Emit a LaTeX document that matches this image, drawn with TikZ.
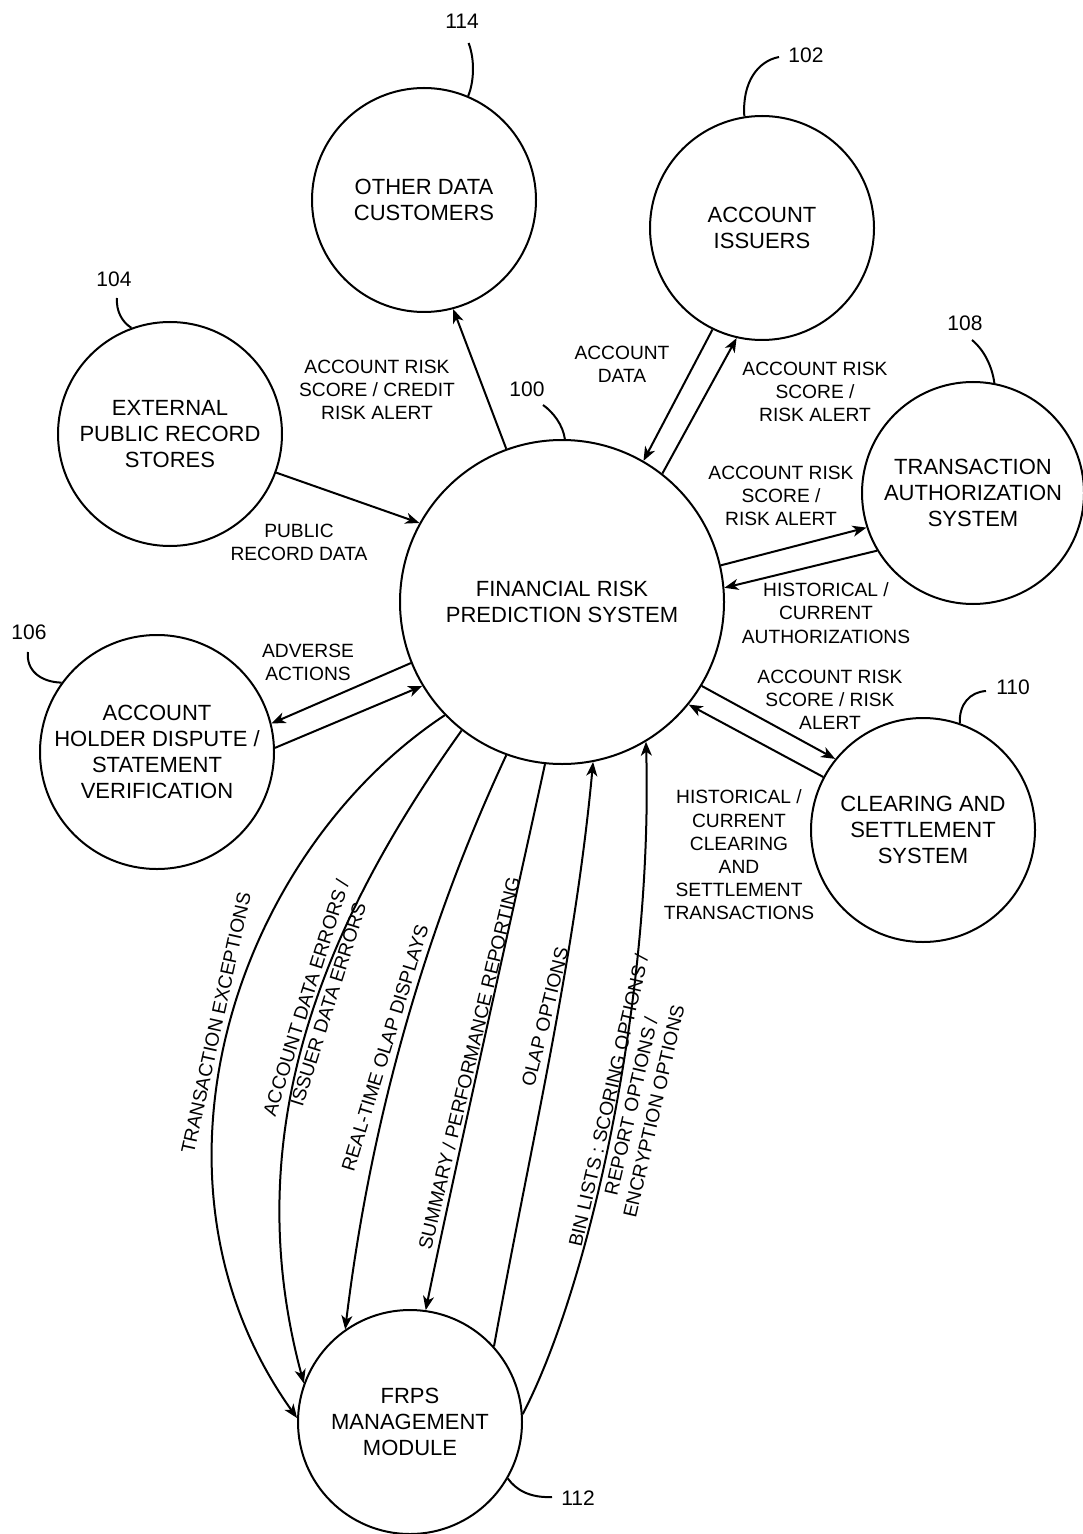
\documentclass[tikz,border=0pt]{standalone}
\usepackage{fontspec}
\setmainfont{Liberation Sans}
\usetikzlibrary{arrows.meta}
\begin{document}
\begin{tikzpicture}[x=0.5pt,y=-0.5pt,
  ent/.style={draw, circle, line width=1pt, inner sep=0pt, align=center, font=\fontsize{11}{13}\selectfont},
  lbl/.style={align=center, inner sep=0pt, font=\fontsize{9.6}{11.6}\selectfont},
  refnum/.style={inner sep=0pt, font=\fontsize{10.5}{12}\selectfont},
  flow/.style={line width=1pt, -{Stealth[length=7pt,width=5.5pt,inset=2pt]}},
  lead/.style={line width=1pt}]
\useasboundingbox (0,0) rectangle (1082,1534);
\fill[white] (0,0) rectangle (1082,1534);

% entities
\node[ent, minimum size=162pt] (frps) at (562,602) {FINANCIAL RISK\\PREDICTION SYSTEM};
\node[ent, minimum size=112pt] (odc) at (424,200) {OTHER DATA\\CUSTOMERS};
\node[ent, minimum size=112pt] (ai) at (762,228) {ACCOUNT\\ISSUERS};
\node[ent, minimum size=112pt] (epr) at (170,434) {EXTERNAL\\PUBLIC RECORD\\STORES};
\node[ent, minimum size=117pt] (ahd) at (157,752) {ACCOUNT\\HOLDER DISPUTE /\\STATEMENT\\VERIFICATION};
\node[ent, minimum size=111pt] (tas) at (973,493) {TRANSACTION\\AUTHORIZATION\\SYSTEM};
\node[ent, minimum size=112pt] (css) at (923,830) {CLEARING AND\\SETTLEMENT\\SYSTEM};
\node[ent, minimum size=112pt] (fmm) at (410,1422) {FRPS\\MANAGEMENT\\MODULE};

% straight flows
\draw[flow] (frps.110) -- (odc.285);
\draw[flow] (epr.340.6) -- (frps.151.7);
\draw[flow] (ai.244.6) -- (frps.60.6);
\draw[flow] (frps.52.3) -- (ai.257.4);
\draw[flow] (frps.13.8) -- (tas.198.1);
\draw[flow] (tas.211) -- (frps.5.6);
\draw[flow] (frps.329.1) -- (css.141.5);
\draw[flow] (css.152.8) -- (frps.321.1);
\draw[flow] (frps.202.6) -- (ahd.14.5);
\draw[flow] (ahd.2) -- (frps.211.4);

% curved flows to/from FRPS management module
\draw[flow] (frps.224) .. controls (236.5,853) and (126.3,1178.4) .. (fmm.178.5);
\draw[flow] (frps.232.7) .. controls (316,934) and (238.5,1140.5) .. (fmm.160.3);
\draw[flow] (frps.250.7) .. controls (421.6,936.4) and (369.4,1129.8) .. (fmm.125.5);
\draw[flow] (frps.264) .. controls (522,870) and (448,1200) .. (fmm.82.3);
\draw[flow] (fmm.42.4) .. controls (529.4,1150.6) and (574.6,961) .. (frps.281.7);
\draw[flow] (fmm.4.6) .. controls (592,1280.4) and (653,992) .. (frps.301.6);

% flow labels
\node[lbl] (t1) at (377,390) {ACCOUNT RISK\\SCORE / CREDIT\\RISK ALERT};
\node[lbl] (t2) at (299,542) {PUBLIC\\RECORD DATA};
\node[lbl] (t3) at (622,364) {ACCOUNT\\DATA};
\node[lbl] (t4) at (815,392) {ACCOUNT RISK\\SCORE /\\RISK ALERT};
\node[lbl] (t5) at (781,496) {ACCOUNT RISK\\SCORE /\\RISK ALERT};
\node[lbl] (t6) at (826,613) {HISTORICAL /\\CURRENT\\AUTHORIZATIONS};
\node[lbl] (t7) at (830,700) {ACCOUNT RISK\\SCORE / RISK\\ALERT};
\node[lbl] (t8) at (739,855) {HISTORICAL /\\CURRENT\\CLEARING\\AND\\SETTLEMENT\\TRANSACTIONS};
\node[lbl] (t9) at (308,662) {ADVERSE\\ACTIONS};

\node[lbl, rotate=77.6] (r1) at (216,1023) {TRANSACTION EXCEPTIONS};
\node[lbl, rotate=72.5] (r2) at (317,1001) {ACCOUNT DATA ERRORS /\\ISSUER DATA ERRORS};
\node[lbl, rotate=73] (r3) at (385,1048) {REAL-TIME OLAP DISPLAYS};
\node[lbl, rotate=76.5] (r4) at (469,1063) {SUMMARY / PERFORMANCE REPORTING};
\node[lbl, rotate=76] (r5) at (545,1017) {OLAP OPTIONS};
\node[lbl, rotate=77] (r6) at (631,1106) {BIN LISTS : SCORING OPTIONS /\\REPORT OPTIONS /\\ENCRYPTION OPTIONS};

% reference numerals
\node[refnum] (n114) at (462,21) {114};
\node[refnum] (n102) at (806,55) {102};
\node[refnum] (n104) at (114,279) {104};
\node[refnum] (n108) at (965,323) {108};
\node[refnum] (n100) at (527,389) {100};
\node[refnum] (n106) at (29,632) {106};
\node[refnum] (n110) at (1013,687) {110};
\node[refnum] (n112) at (578,1498) {112};

% leader lines
\coordinate (c114) at (468.6,43);
\draw[lead] (c114) .. controls (475,60) and (474,82) .. (odc.67);
\coordinate (c102) at (779,57);
\draw[lead] (c102) .. controls (758,61) and (742,82) .. (ai.99.7);
\coordinate (c104) at (117,298);
\draw[lead] (c104) .. controls (116,311) and (122,322) .. (epr.110.2);
\coordinate (c108) at (972,340);
\draw[lead] (c108) .. controls (984,350) and (992,366) .. (tas.79.3);
\coordinate (c106) at (28,652);
\draw[lead] (c106) .. controls (26,670) and (40,682) .. (ahd.144.9);
\coordinate (c110) at (986,691);
\draw[lead] (c110) .. controls (970,692) and (959,704) .. (css.71.6);
\coordinate (c112) at (552,1497);
\draw[lead] (c112) .. controls (530,1498) and (516,1490) .. (fmm.330.3);
\coordinate (c100) at (543,405);
\draw[lead] (c100) .. controls (553,412) and (563,425) .. (frps.89.5);
\end{tikzpicture}
\end{document}
